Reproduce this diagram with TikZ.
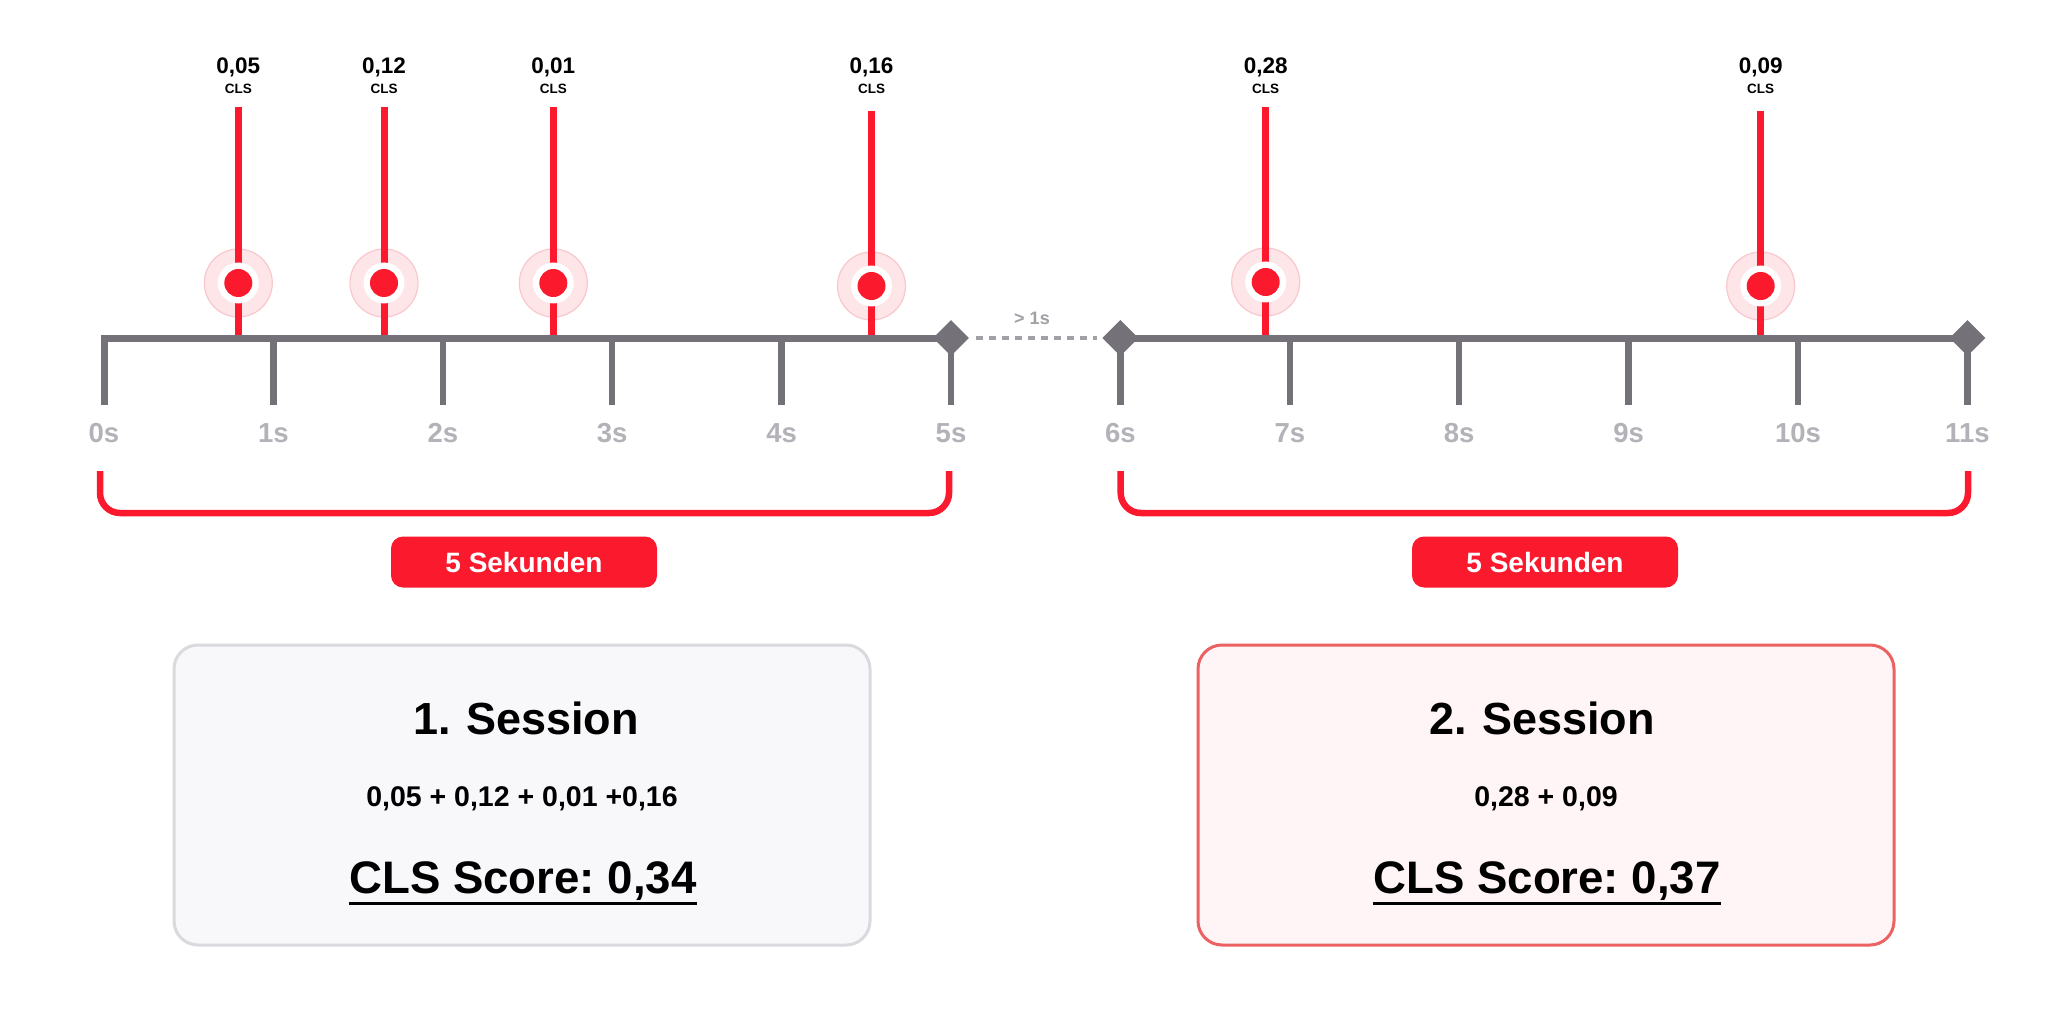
\documentclass[tikz,border=0pt]{standalone}
\usepackage{fontspec}
\setmainfont{Liberation Sans}
\usetikzlibrary{calc,shapes.geometric}
\definecolor{cred}{RGB}{250,25,45}
\definecolor{axisgrey}{RGB}{116,114,120}
\definecolor{ticklab}{RGB}{178,178,184}
\definecolor{gapgrey}{RGB}{160,160,166}
\definecolor{halofill}{RGB}{253,229,232}
\definecolor{haloline}{RGB}{249,200,206}
\definecolor{boxafill}{RGB}{248,247,250}
\definecolor{boxaline}{RGB}{218,217,222}
\definecolor{boxbfill}{RGB}{255,245,246}
\definecolor{boxbline}{RGB}{236,98,98}
\newcommand\myfs[1]{\fontsize{#1}{#1}\selectfont}
\frenchspacing
\tikzset{
  axisline/.style={draw=axisgrey, line width=7pt, line join=miter},
  tickline/.style={draw=axisgrey, line width=6.5pt},
  endmark/.style={diamond, fill=axisgrey, minimum width=36pt, minimum height=36pt, inner sep=0pt},
  gapline/.style={draw=gapgrey, line width=4pt, dash pattern=on 7pt off 6pt},
  stemline/.style={draw=cred, line width=7pt},
  reddot/.style={circle, fill=cred, minimum size=28pt, inner sep=0pt},
  bracketline/.style={draw=cred, line width=6.5pt, rounded corners=20pt},
  pill/.style={fill=cred, rounded corners=12pt, minimum width=266pt, minimum height=51pt, text=white, font=\bfseries\myfs{28}},
  sessbox/.style={rounded corners=24pt, line width=3pt, minimum width=696pt, minimum height=300pt},
}
\begin{document}
\begin{tikzpicture}[x=1pt,y=-1pt, every node/.style={inner sep=0pt, font=\bfseries}]
\fill[white] (0,0) rectangle (2048,1024);
\useasboundingbox (0,0) rectangle (2048,1024);

% tick positions
\foreach \i in {0,...,11}{
  \coordinate (t\i) at ({104+169.4*\i},338);
  \coordinate (b\i) at ({104+169.4*\i},405);
}
% axes
\draw[axisline] (b0) -- (t0) -- (t5);
\draw[axisline] (t6) -- (t11);
\foreach \i in {1,...,11}{
  \draw[tickline] (t\i) -- (b\i);
}
\foreach \i in {0,...,11}{
  \node[anchor=base, text=ticklab, font=\bfseries\myfs{27.5}] (lab\i) at ({104+169.4*\i},442) {\i s};
}
\node[endmark] (d5) at (t5) {};
\node[endmark] (d6) at (t6) {};
\node[endmark] (d11) at (t11) {};
\draw[gapline, shorten <=7pt, shorten >=5pt] (d5.east) -- (d6.west);
\node[anchor=base, text=gapgrey, font=\bfseries\myfs{18}] (gap) at (1032,324) {> 1s};

% events
\foreach \x/\yc/\yt/\v [count=\i] in {238.3/283/107/{0,05}, 384/283/107/{0,12}, 553.3/283/107/{0,01}, 871.5/286/111/{0,16}, 1265.7/282/107/{0,28}, 1760.7/286/111/{0,09}}{
  \fill[halofill] (\x,\yc) circle[radius=34pt];
  \draw[haloline, line width=1.2pt] (\x,\yc) circle[radius=34pt];
  \coordinate (top\i) at (\x,\yt);
  \coordinate (foot\i) at (\x,335);
  \draw[stemline] (top\i) -- (foot\i);
  \fill[white] (\x,\yc) circle[radius=20.5pt];
  \node[reddot] (dot\i) at (\x,\yc) {};
  \node[anchor=base, font=\bfseries\myfs{22.5}] (val\i) at (\x,73.3) {\v};
  \node[anchor=base, font=\bfseries\myfs{13.5}] (cls\i) at (\x,93.3) {CLS};
}

% brackets
\coordinate (bra) at (100,471);
\coordinate (bram) at (524,513);
\coordinate (brb) at (949,471);
\draw[bracketline] (bra) |- (bram) -| (brb);
\coordinate (brc) at (1120.7,471);
\coordinate (brcm) at (1545,513);
\coordinate (brd) at (1968,471);
\draw[bracketline] (brc) |- (brcm) -| (brd);
\node[pill] (p1) at (524,562) {5 Sekunden};
\node[pill] (p2) at (1545,562) {5 Sekunden};

% session boxes
\node[sessbox, draw=boxaline, fill=boxafill] (box1) at (522,795) {};
\node[sessbox, draw=boxbline, fill=boxbfill] (box2) at (1546,795) {};

\node[anchor=base, font=\bfseries\myfs{45}] (t1title) at (526,734) {1.\hspace{0.35em}Session};
\node[anchor=base, font=\bfseries\myfs{28.5}] (t1sum) at (522,806) {0,05 + 0,12 + 0,01 +0,16};
\node[anchor=base, font=\bfseries\myfs{45.6}] (t1score) at (523,893) {CLS Score: 0,34};
\draw[line width=3pt] ($(t1score.base west)+(0,10)$) -- ($(t1score.base east)+(0,10)$);

\node[anchor=base, font=\bfseries\myfs{45}] (t2title) at (1542,734) {2.\hspace{0.35em}Session};
\node[anchor=base, font=\bfseries\myfs{28.5}] (t2sum) at (1546,806) {0,28 + 0,09};
\node[anchor=base, font=\bfseries\myfs{45.6}] (t2score) at (1547,893) {CLS Score: 0,37};
\draw[line width=3pt] ($(t2score.base west)+(0,10)$) -- ($(t2score.base east)+(0,10)$);
\end{tikzpicture}
\end{document}
